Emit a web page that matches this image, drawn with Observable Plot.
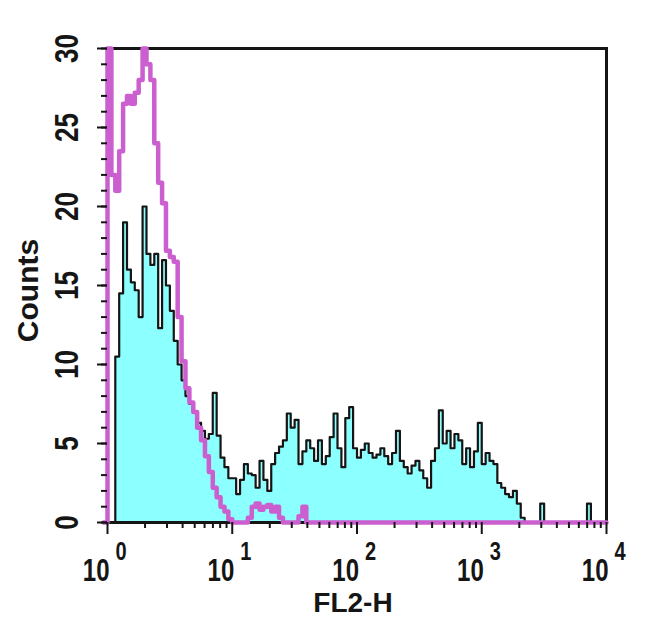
<!DOCTYPE html>
<html><head><meta charset="utf-8">
<script src="https://cdn.jsdelivr.net/npm/d3@7"></script>
<script src="https://cdn.jsdelivr.net/npm/@observablehq/plot@0.6"></script>
<style>body{margin:0;background:#fff} svg{display:block}</style>
</head><body><div id="chart"></div>
<script>
// Sample (cyan, black outline) counts per channel, 32 channels per decade, 10^0..10^4
const sampleCounts = [
  0, 0, 10.5, 14.5, 19, 16, 15.2, 14.7, 13, 20,
  17, 16.3, 17, 12.3, 16.6, 15, 13.4, 11.5, 10, 9,
  8, 7.5, 7, 6.3, 5.8, 5.3, 5.6, 8.2, 5.5, 4.1,
  3.5, 2.8, 2.8, 1.8, 2.7, 3.7, 3.1, 3.0, 2.2, 3.9,
  2.7, 2.0, 3.7, 4.4, 4.8, 5.2, 6.9, 6.0, 6.5, 3.7,
  4.5, 5.2, 4.7, 3.9, 5.2, 3.7, 4.2, 5.4, 6.9, 4.7,
  3.5, 6.6, 7.3, 4.7, 4.1, 4.6, 5.0, 4.4, 4.1, 4.3,
  4.7, 4.2, 3.7, 4.4, 5.8, 3.9, 3.5, 3.1, 3.6, 3.9,
  3.3, 2.8, 2.2, 3.9, 4.7, 7.1, 5.0, 5.8, 4.7, 5.6,
  5.2, 3.7, 4.7, 3.5, 4.5, 6.3, 3.7, 4.4, 3.9, 3.7,
  2.5, 2.2, 1.8, 1.6, 2.0, 1.2, 0.3, 0, 0, 0,
  0, 1.2, 0, 0, 0, 0, 0, 0, 0, 0,
  0, 0, 0, 1.2, 0, 0, 0, 0
];
// Isotype control (magenta line) counts per channel
const isotypeCounts = [
  30, 22, 21, 23.5, 26.5, 27, 26.5, 27.2, 28, 30,
  29, 28, 24, 21.5, 20.2, 17.2, 16.8, 16.5, 13, 10.2,
  8.5, 7.6, 7, 6, 5.2, 4.2, 3.2, 2.2, 1.6, 1.0,
  0.7, 0.2, 0, 0, 0, 0, 0.3, 1, 1.2, 0.8,
  1, 1.1, 0.7, 1, 0.3, 0, 0, 0, 0, 0.4,
  1, 0, 0, 0, 0, 0, 0, 0, 0, 0,
  0, 0, 0, 0, 0, 0, 0, 0, 0, 0,
  0, 0, 0, 0, 0, 0, 0, 0, 0, 0,
  0, 0, 0, 0, 0, 0, 0, 0, 0, 0,
  0, 0, 0, 0, 0, 0, 0, 0, 0, 0,
  0, 0, 0, 0, 0, 0, 0, 0, 0, 0,
  0, 0, 0, 0, 0, 0, 0, 0, 0, 0,
  0, 0, 0, 0, 0, 0, 0, 0
];
const channelsPerDecade = 32;
const xMajorTicks = [1, 10, 100, 1000, 10000];
const xTickExponents = ["0", "1", "2", "3", "4"];
const yMajorTicks = [0, 5, 10, 15, 20, 25, 30];
const xLabel = "FL2-H";
const yLabel = "Counts";

const edgeX = i => Math.pow(10, i / channelsPerDecade);
function stepPoints(counts, lead) {
  const pts = lead ? [{x: edgeX(-1), y: 0}] : [];
  counts.forEach((c, i) => pts.push({x: edgeX(i), y: c}));
  pts.push({x: edgeX(counts.length), y: counts[counts.length - 1]});
  return pts;
}
const samplePts = stepPoints(sampleCounts, false);
const isoPts = stepPoints(isotypeCounts, true);
const xMinorTicks = d3.range(0, 4).flatMap(d => d3.range(2, 10).map(k => k * Math.pow(10, d)));
const yMinorTicks = d3.range(0, 31);

const ink = "#151515";
const font = "'Liberation Sans', Arial, Helvetica, sans-serif";

const chart = Plot.plot({
  width: 650, height: 625,
  marginLeft: 107, marginRight: 44, marginTop: 48, marginBottom: 103,
  x: {type: "log", domain: [1, 10000], axis: null},
  y: {domain: [0, 30], axis: null},
  style: {fontFamily: font, background: "#fff", color: ink},
  marks: [
    Plot.areaY(samplePts, {x: "x", y: "y", curve: "step-after", fill: "#8cffff"}),
    Plot.lineY(samplePts, {x: "x", y: "y", curve: "step-after", stroke: ink, strokeWidth: 2.2}),
    Plot.frame({stroke: ink, strokeWidth: 3}),
    Plot.lineY(isoPts, {x: "x", y: "y", curve: "step-after", stroke: "#cc5fd0", strokeWidth: 4.5}),
    Plot.axisY(yMinorTicks, {tickSize: 6, tickFormat: () => "", label: null, stroke: ink, strokeWidth: 2}),
    Plot.axisY(yMajorTicks, {tickSize: 10, tickFormat: () => "", label: null, stroke: ink, strokeWidth: 2}),
    Plot.axisX(xMinorTicks, {tickSize: 6, tickFormat: () => "", label: null, stroke: ink, strokeWidth: 2}),
    Plot.axisX(xMajorTicks, {tickSize: 12, tickFormat: () => "", label: null, stroke: ink, strokeWidth: 2}),
    Plot.text(yMajorTicks, {y: d => d, text: d => String(d), frameAnchor: "left", dx: -30, rotate: -90,
      textAnchor: "middle", lineAnchor: "bottom", fontSize: 26, fontWeight: "bold", fill: ink, ariaLabel: () => "tall-label"}),
    Plot.text(xMajorTicks, {x: d => d, text: () => "10", frameAnchor: "bottom", dy: 58, dx: 2,
      textAnchor: "end", lineAnchor: "bottom", fontSize: 24, fontWeight: "bold", fill: ink, ariaLabel: () => "tall-label"}),
    Plot.text(xMajorTicks, {x: d => d, text: (d, i) => xTickExponents[i], frameAnchor: "bottom", dy: 37, dx: 8,
      textAnchor: "start", lineAnchor: "bottom", fontSize: 20, fontWeight: "bold", fill: ink, ariaLabel: () => "tall-label"}),
    Plot.text([xLabel], {text: d => d, frameAnchor: "bottom", dy: 89, dx: -4, lineAnchor: "bottom",
      textAnchor: "middle", fontSize: 28, fontWeight: "bold", fill: ink}),
    Plot.text([yLabel], {text: d => d, frameAnchor: "left", dx: -70, dy: 5, rotate: -90,
      textAnchor: "middle", lineAnchor: "bottom", fontSize: 30, fontWeight: "bold", fill: ink})
  ]
});
// the reference's tick digits are taller than they are wide: stretch them about their anchor point
chart.querySelectorAll('text[aria-label="tall-label"]').forEach(t => {
  let tr = t.getAttribute("transform") || "";
  if (!/translate/.test(tr)) {
    const x = +(t.getAttribute("x") || 0), y = +(t.getAttribute("y") || 0);
    t.removeAttribute("x"); t.removeAttribute("y");
    tr = `translate(${x},${y}) ` + tr;
  }
  t.setAttribute("transform", (tr + " scale(1,1.28)").trim());
});
document.getElementById("chart").appendChild(chart);
</script>
</body></html>
